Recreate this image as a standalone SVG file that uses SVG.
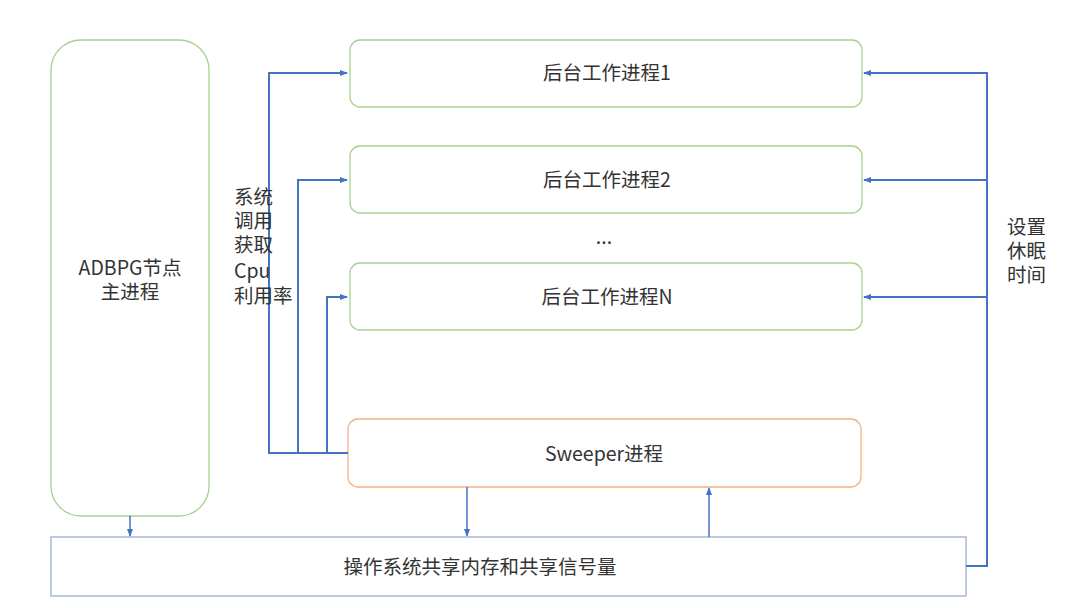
<svg xmlns="http://www.w3.org/2000/svg" width="1080" height="608" viewBox="0 0 1080 608">
<style>
text{font-family:"Noto Sans CJK SC","Liberation Sans",sans-serif;font-size:19.5px;fill:#333}
.g{fill:#fff;stroke:#a9d18e;stroke-width:1.3}
.o{fill:#fff;stroke:#f4b183;stroke-width:1.3}
.b{fill:#fff;stroke:#a8b7d8;stroke-width:1.5}
.c{fill:none;stroke:#4472c4;stroke-width:2}
.ca{fill:none;stroke:#4472c4;stroke-width:1.5}
</style>
<defs>
<marker id="ah" markerWidth="8" markerHeight="8" refX="7" refY="4" orient="auto" markerUnits="userSpaceOnUse">
<path d="M0,1 L8,4 L0,7 Z" fill="#4472c4"/>
</marker>
</defs>
<rect width="1080" height="608" fill="#fff"/>
<g id="adbpg"><rect class="g" x="51" y="40" width="158" height="476" rx="30"/>
<text x="130" y="275" text-anchor="middle">ADBPG节点</text><text x="130" y="299" text-anchor="middle">主进程</text></g>
<g id="w1"><rect class="g" x="350" y="40" width="512" height="67" rx="10"/><text x="607" y="80" text-anchor="middle">后台工作进程1</text></g>
<g id="w2"><rect class="g" x="350" y="146" width="512" height="67" rx="10"/><text x="607" y="187" text-anchor="middle">后台工作进程2</text></g>
<g id="dots"><text x="604" y="244" text-anchor="middle">...</text></g>
<g id="wn"><rect class="g" x="350" y="263" width="512" height="67" rx="10"/><text x="607" y="304" text-anchor="middle">后台工作进程N</text></g>
<g id="sweeper"><rect class="o" x="348" y="419" width="513" height="68" rx="10"/><text x="604" y="461" text-anchor="middle">Sweeper进程</text></g>
<g id="shm"><rect class="b" x="51" y="537" width="915" height="59"/><text x="480" y="574" text-anchor="middle">操作系统共享内存和共享信号量</text></g>
<g id="connectors">
<path class="c" d="M348,453 H269 V73 H347" marker-end="url(#ah)"/>
<path class="c" d="M298,453 V180 H347" marker-end="url(#ah)"/>
<path class="c" d="M327,453 V297 H347" marker-end="url(#ah)"/>
<path class="c" d="M966,566 H987 V73 H864" marker-end="url(#ah)"/>
<path class="c" d="M987,180 H864" marker-end="url(#ah)"/>
<path class="c" d="M987,297 H864" marker-end="url(#ah)"/>
<path class="ca" d="M130,516 V536" marker-end="url(#ah)"/>
<path class="ca" d="M467,487 V536" marker-end="url(#ah)"/>
<path class="ca" d="M709,537 V488" marker-end="url(#ah)"/>
</g>
<g id="labels">
<text x="234" y="204">系统</text><text x="234" y="228">调用</text><text x="234" y="252">获取</text><text x="234" y="278">Cpu</text><text x="234" y="303">利用率</text>
<text x="1007" y="234">设置</text><text x="1007" y="258">休眠</text><text x="1007" y="282">时间</text>
</g>
</svg>
